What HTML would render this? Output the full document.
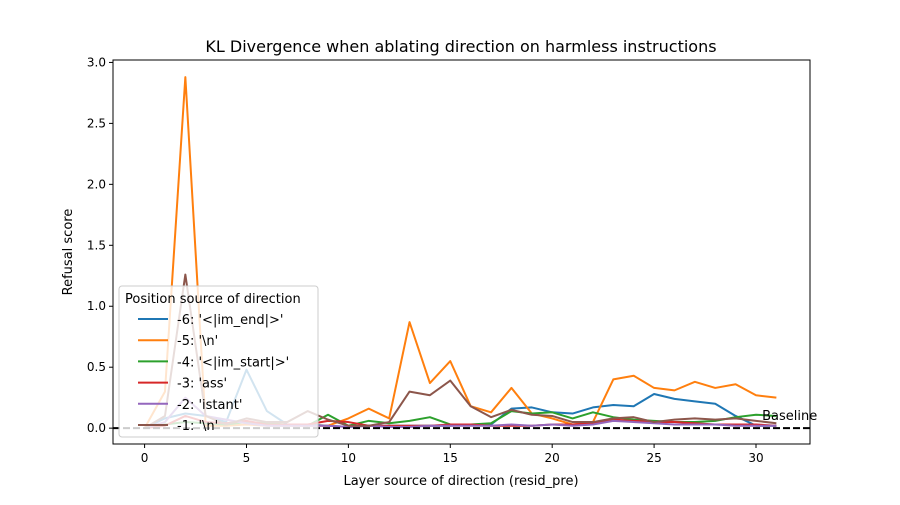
<!DOCTYPE html>
<html><head><meta charset="utf-8"><style>
body{margin:0;background:#fff;font-family:"Liberation Sans","DejaVu Sans",sans-serif}
svg text{font-family:"DejaVu Sans","Liberation Sans",sans-serif}
</style></head><body>
<svg id="chart" width="900" height="500"></svg>
<script>
const layers=[...Array(32).keys()];
const seriesLabels=["-6: '<|im_end|>'","-5: '\\n'","-4: '<|im_start|>'","-3: 'ass'","-2: 'istant'","-1: '\\n'"];
const seriesColors=["#1f77b4","#ff7f0e","#2ca02c","#d62728","#9467bd","#8c564b"];
const s6=[0,0.08,0.12,0.1,0.05,0.48,0.14,0.03,0.03,0.02,0.01,0.02,0.02,0.02,0.02,0.02,0.03,0.03,0.16,0.17,0.13,0.12,0.17,0.19,0.18,0.28,0.24,0.22,0.2,0.1,0.02,0.02];
const s5=[0,0.3,2.88,0.02,0.02,0.03,0.02,0.02,0.02,0.02,0.08,0.16,0.08,0.87,0.37,0.55,0.18,0.13,0.33,0.12,0.08,0.03,0.05,0.4,0.43,0.33,0.31,0.38,0.33,0.36,0.27,0.25];
const s4=[0,0.03,0.05,0.04,0.03,0.05,0.04,0.03,0.02,0.11,0.02,0.06,0.04,0.06,0.09,0.03,0.03,0.04,0.14,0.12,0.13,0.08,0.13,0.09,0.07,0.06,0.05,0.05,0.06,0.09,0.11,0.1];
const s3=[0,0.02,0.1,0.05,0.04,0.06,0.03,0.03,0.03,0.06,0.05,0.02,0.02,0.02,0.02,0.03,0.03,0.02,0.02,0.02,0.03,0.03,0.04,0.07,0.06,0.05,0.05,0.04,0.03,0.03,0.03,0.02];
const s2=[0,0.05,0.25,0.1,0.07,0.04,0.02,0.02,0.02,0.02,0.01,0.02,0.01,0.01,0.02,0.02,0.02,0.02,0.03,0.02,0.03,0.02,0.03,0.06,0.05,0.04,0.03,0.03,0.03,0.02,0.02,0.02];
const s1=[0,0.1,1.26,0.1,0.03,0.08,0.05,0.05,0.14,0.07,0.02,0.02,0.05,0.3,0.27,0.39,0.18,0.09,0.15,0.11,0.1,0.05,0.05,0.08,0.09,0.05,0.07,0.08,0.07,0.08,0.06,0.04];
const allSeries=[s6,s5,s4,s3,s2,s1];
const xTicks=[0,5,10,15,20,25,30];
const yTicks=[0,0.5,1.0,1.5,2.0,2.5,3.0];
const L=113,R=810,T=60,B=444;
const xMin=-1.55,xMax=32.65,yMin=-0.13,yMax=3.02;
const X=v=>L+(v-xMin)/(xMax-xMin)*(R-L);
const Y=v=>B-(v-yMin)/(yMax-yMin)*(B-T);
const svg=document.getElementById('chart');
const NS='http://www.w3.org/2000/svg';
function mk(tag,attrs,parent){const e=document.createElementNS(NS,tag);for(const k in attrs)e.setAttribute(k,attrs[k]);(parent||svg).appendChild(e);return e;}
// title
let t=mk('text',{x:461,y:52,'text-anchor':'middle','font-size':16});t.textContent='KL Divergence when ablating direction on harmless instructions';


// series
allSeries.forEach((s,i)=>{
 const p=mk('polyline',{points:s.map((v,j)=>X(layers[j])+','+Y(v)).join(' '),fill:'none',stroke:seriesColors[i],'stroke-width':2,'stroke-linejoin':'round'});
 
 
});
// baseline
const bl=mk('line',{x1:L,x2:R,y1:Y(0),y2:Y(0),stroke:'#000','stroke-width':2,'stroke-dasharray':'7,3'});


const bt=mk('text',{x:X(30.3),y:Y(0.1)+4,'font-size':13});bt.textContent='Baseline';


// axes frame
const fr=mk('rect',{x:L,y:T,width:R-L,height:B-T,fill:'none',stroke:'#000','stroke-width':1});


xTicks.forEach(v=>{
 mk('line',{x1:X(v),x2:X(v),y1:B,y2:B+4,stroke:'#000'});
 const tx=mk('text',{x:X(v),y:B+18,'text-anchor':'middle','font-size':12});tx.textContent=v;
 
 
});
yTicks.forEach(v=>{
 mk('line',{x1:L-4,x2:L,y1:Y(v),y2:Y(v),stroke:'#000'});
 const tx=mk('text',{x:L-7,y:Y(v)+4,'text-anchor':'end','font-size':12});tx.textContent=v.toFixed(1);
 
 
});
const xt=mk('text',{x:461,y:485,'text-anchor':'middle','font-size':13});xt.textContent='Layer source of direction (resid_pre)';


const yt=mk('text',{x:72,y:252,'text-anchor':'middle','font-size':13,transform:'rotate(-90 72 252)'});yt.textContent='Refusal score';


// legend
const lg=mk('g',{});


mk('rect',{x:119,y:286,width:199,height:151,rx:3,fill:'#fff','fill-opacity':0.8,stroke:'#ccc'},lg);
const lt=mk('text',{x:125,y:303,'font-size':13},lg);lt.textContent='Position source of direction';
seriesLabels.forEach((lab,i)=>{
 const y=319+i*21.2;
 const g=mk('g',{},lg);
 
 
 mk('line',{x1:138,x2:168,y1:y,y2:y,stroke:seriesColors[i],'stroke-width':2},g);
 const tx=mk('text',{x:177,y:y+5,'font-size':13},g);tx.textContent=lab;
});
</script>
</body></html>
